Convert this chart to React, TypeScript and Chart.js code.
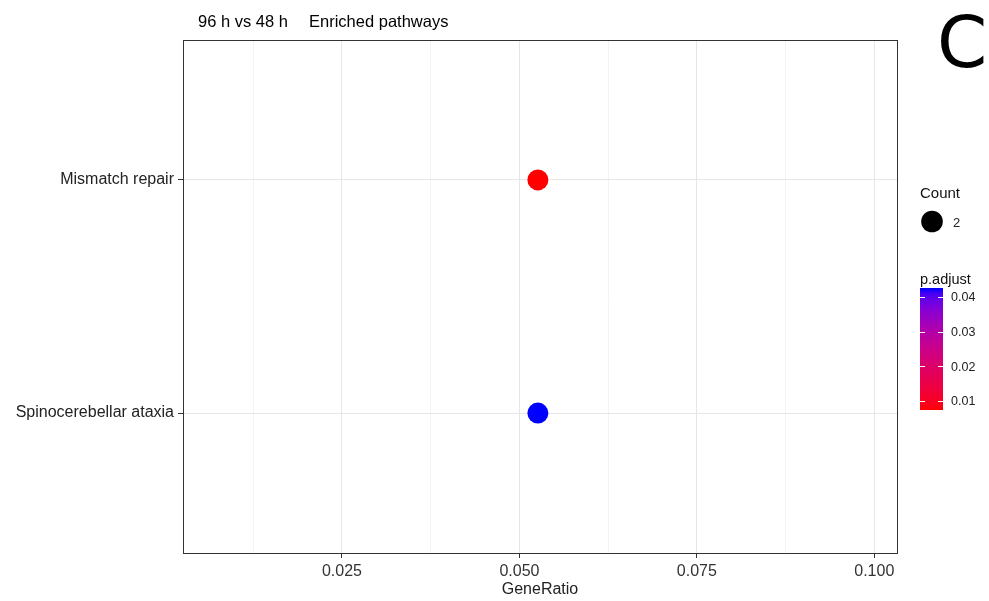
import React, { useEffect, useRef } from "react";
import { Chart, registerables } from "chart.js";

Chart.register(...registerables);

// ---- data ----
const pathways = ["Mismatch repair", "Spinocerebellar ataxia"];
const geneRatio = [0.0526, 0.0526];
const counts = [2, 2];
const pAdjust = [0.0074, 0.0426];
const xTicks = [0.0125, 0.025, 0.0375, 0.05, 0.0625, 0.075, 0.0875, 0.1];
const legendTicks = [0.01, 0.02, 0.03, 0.04];
const titleLeft = "96 h vs 48 h";
const titleRight = "Enriched pathways";
const panelLetter = "C";

const FONT = "'Liberation Sans', Arial, sans-serif";

// ---- colour helpers (Lab interpolation like ggplot) ----
function s2l(c: number) { c /= 255; return c <= 0.04045 ? c / 12.92 : Math.pow((c + 0.055) / 1.055, 2.4); }
function l2s(c: number) { const v = c <= 0.0031308 ? 12.92 * c : 1.055 * Math.pow(c, 1 / 2.4) - 0.055; return Math.round(Math.max(0, Math.min(1, v)) * 255); }
const XN = 0.95047, YN = 1, ZN = 1.08883;
function f(t: number) { return t > 0.008856 ? Math.cbrt(t) : 7.787 * t + 16 / 116; }
function fi(t: number) { return t > 0.206893 ? t * t * t : (t - 16 / 116) / 7.787; }
function rgbToLab(rgb: number[]) {
  const R = s2l(rgb[0]), G = s2l(rgb[1]), B = s2l(rgb[2]);
  const X = 0.4124 * R + 0.3576 * G + 0.1805 * B;
  const Y = 0.2126 * R + 0.7152 * G + 0.0722 * B;
  const Z = 0.0193 * R + 0.1192 * G + 0.9505 * B;
  const fx = f(X / XN), fy = f(Y / YN), fz = f(Z / ZN);
  return [116 * fy - 16, 500 * (fx - fy), 200 * (fy - fz)];
}
function labToRgb(lab: number[]) {
  const fy = (lab[0] + 16) / 116, fx = fy + lab[1] / 500, fz = fy - lab[2] / 200;
  const X = fi(fx) * XN, Y = fi(fy) * YN, Z = fi(fz) * ZN;
  const R = 3.2406 * X - 1.5372 * Y - 0.4986 * Z;
  const G = -0.9689 * X + 1.8758 * Y + 0.0415 * Z;
  const B = 0.0557 * X - 0.204 * Y + 1.057 * Z;
  return `rgb(${l2s(R)},${l2s(G)},${l2s(B)})`;
}
const LOW = rgbToLab([255, 0, 0]);
const HIGH = rgbToLab([0, 0, 255]);
function colorAt(t: number) {
  t = Math.max(0, Math.min(1, t));
  return labToRgb([0, 1, 2].map((i) => LOW[i] + (HIGH[i] - LOW[i]) * t));
}
const pMin = Math.min(...pAdjust);
const pMax = Math.max(...pAdjust);
const pointColor = (p: number) => colorAt((p - pMin) / (pMax - pMin));

const isMajor = (v: number) => Math.abs(v / 0.025 - Math.round(v / 0.025)) < 1e-6;

const decorPlugin = {
  id: "decor",
  afterDraw(chart: any) {
    const ctx = chart.ctx as CanvasRenderingContext2D;
    const a = chart.chartArea;
    ctx.save();
    // panel border
    ctx.strokeStyle = "#333333";
    ctx.lineWidth = 1;
    ctx.strokeRect(Math.round(a.left) + 0.5, Math.round(a.top) + 0.5, Math.round(a.right - a.left), Math.round(a.bottom - a.top));

    // title
    ctx.fillStyle = "#000000";
    ctx.font = `16.5px ${FONT}`;
    ctx.textAlign = "left";
    ctx.textBaseline = "middle";
    ctx.fillText(titleLeft, 198, 22);
    ctx.fillText(titleRight, 309, 22);

    // panel letter
    ctx.font = `72px 'DejaVu Sans', sans-serif`;
    ctx.textBaseline = "alphabetic";
    ctx.fillText(panelLetter, 937, 67);

    // x axis title
    ctx.fillStyle = "#222222";
    ctx.font = `16px ${FONT}`;
    ctx.textAlign = "center";
    ctx.textBaseline = "middle";
    ctx.fillText("GeneRatio", (a.left + a.right) / 2, 590);

    // Count legend
    ctx.textAlign = "left";
    ctx.textBaseline = "alphabetic";
    ctx.fillStyle = "#111111";
    ctx.font = `15px ${FONT}`;
    ctx.fillText("Count", 920, 198);
    ctx.beginPath();
    ctx.arc(932, 221.5, 10.8, 0, Math.PI * 2);
    ctx.fillStyle = "#000000";
    ctx.fill();
    ctx.fillStyle = "#222222";
    ctx.font = `13px ${FONT}`;
    ctx.fillText(String(counts[0]), 953, 226.5);

    // p.adjust legend
    ctx.fillStyle = "#111111";
    ctx.font = `14.5px ${FONT}`;
    ctx.fillText("p.adjust", 920, 284);
    const barX = 920, barW = 23, barTop = 288, barBot = 410;
    const vTop = 0.0426, vBot = 0.0074;
    const grad = ctx.createLinearGradient(0, barBot, 0, barTop);
    for (let i = 0; i <= 20; i++) {
      const t = i / 20;
      const v = vBot + (vTop - vBot) * t;
      grad.addColorStop(t, pointColor(v));
    }
    ctx.fillStyle = grad;
    ctx.fillRect(barX, barTop, barW, barBot - barTop);
    ctx.strokeStyle = "#ffffff";
    ctx.lineWidth = 1;
    ctx.font = `12.5px ${FONT}`;
    ctx.textBaseline = "middle";
    for (const v of legendTicks) {
      const y = barBot - ((v - vBot) / (vTop - vBot)) * (barBot - barTop);
      ctx.beginPath();
      ctx.moveTo(barX, Math.round(y) + 0.5);
      ctx.lineTo(barX + 5, Math.round(y) + 0.5);
      ctx.moveTo(barX + barW - 5, Math.round(y) + 0.5);
      ctx.lineTo(barX + barW, Math.round(y) + 0.5);
      ctx.stroke();
      ctx.fillStyle = "#222222";
      ctx.fillText(v.toFixed(2), 951, y + 1);
    }
    ctx.restore();
  },
};

export default function App() {
  const ref = useRef<HTMLCanvasElement>(null);
  useEffect(() => {
    if (!ref.current) return;
    const chart = new Chart(ref.current, {
      type: "scatter",
      data: {
        datasets: [
          {
            data: pathways.map((_, i) => ({ x: geneRatio[i], y: i + 1 })),
            backgroundColor: pAdjust.map(pointColor),
            borderWidth: 0,
            pointRadius: 10.5,
            pointHoverRadius: 10.5,
          },
        ],
      },
      options: {
        animation: false,
        responsive: false,
        maintainAspectRatio: false,
        layout: { padding: { left: 0, top: 40, right: 92, bottom: 0 } },
        plugins: { legend: { display: false }, tooltip: { enabled: false }, title: { display: false } },
        scales: {
          x: {
            type: "linear",
            min: 0.0026,
            max: 0.1032,
            afterBuildTicks: (s: any) => { s.ticks = xTicks.map((v) => ({ value: v })); },
            afterFit: (s: any) => { s.height = 48; },
            border: { display: false },
            grid: {
              color: (c: any) => (c.tick && isMajor(c.tick.value) ? "#E6E6E6" : "#F3F3F3"),
              lineWidth: 1,
              tickLength: 5,
              tickColor: (c: any) => (c.tick && isMajor(c.tick.value) ? "#333333" : "rgba(0,0,0,0)"),
            },
            ticks: {
              autoSkip: false,
              maxRotation: 0,
              padding: 4,
              color: "#333333",
              font: { family: FONT, size: 16 },
              callback: (v: any) => (isMajor(Number(v)) ? Number(v).toFixed(3) : ""),
            },
          },
          y: {
            type: "linear",
            min: 0.4,
            max: 2.6,
            reverse: true,
            afterBuildTicks: (s: any) => { s.ticks = pathways.map((_, i) => ({ value: i + 1 })); },
            afterFit: (s: any) => { s.width = 183; },
            border: { display: false },
            grid: { color: "#E6E6E6", lineWidth: 1, tickLength: 5, tickColor: "#333333" },
            ticks: {
              autoSkip: false,
              padding: 4,
              color: "#222222",
              font: { family: FONT, size: 16 },
              callback: (v: any) => pathways[Math.round(Number(v)) - 1] ?? "",
            },
          },
        },
      },
      plugins: [decorPlugin],
    } as any);
    return () => chart.destroy();
  }, []);
  return (
    <div style={{ position: "absolute", left: 0, top: 0, width: 989, height: 601, background: "#fff" }}>
      <canvas ref={ref} width={989} height={601} style={{ width: 989, height: 601, display: "block" }} />
    </div>
  );
}
